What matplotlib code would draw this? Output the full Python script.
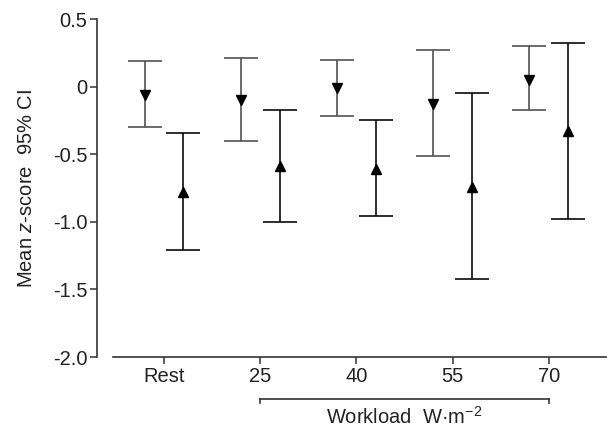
import numpy as np
import matplotlib
matplotlib.use("Agg")
import matplotlib.pyplot as plt
import matplotlib.transforms as mtransforms
from matplotlib.ticker import FuncFormatter

plt.rcParams['font.family'] = ['Liberation Sans Narrow', 'Liberation Sans', 'DejaVu Sans']
plt.rcParams['mathtext.fontset'] = 'custom'
plt.rcParams['mathtext.rm'] = 'Liberation Sans'
plt.rcParams['mathtext.it'] = 'Liberation Sans:italic'

# conditions on the x axis
categories = ['Rest', '25', '40', '55', '70']

# series drawn with downward triangles
down_mean = [-0.06, -0.10, -0.01, -0.13, 0.05]
down_lo = [-0.30, -0.40, -0.215, -0.51, -0.17]
down_hi = [0.19, 0.21, 0.20, 0.27, 0.30]

# series drawn with upward triangles
up_mean = [-0.78, -0.585, -0.61, -0.74, -0.33]
up_lo = [-1.21, -1.00, -0.96, -1.42, -0.98]
up_hi = [-0.34, -0.17, -0.25, -0.05, 0.32]

x = np.arange(len(categories))
off = 0.2
fs = 14.5

fig = plt.figure(figsize=(6.07, 4.32), dpi=100)
ax = fig.add_axes([0.1598, 0.1736, 0.8402, 0.7824])

def err(mean, lo, hi):
    mean = np.array(mean)
    return np.vstack([mean - np.array(lo), np.array(hi) - mean])

ax.errorbar(x - off, down_mean, yerr=err(down_mean, down_lo, down_hi), fmt='v',
            color='#4a4a4a', mfc='black', mec='black', ms=7.5, capsize=12.5,
            elinewidth=1.15, capthick=1.15)
ax.errorbar(x + off, up_mean, yerr=err(up_mean, up_lo, up_hi), fmt='^',
            color='black', mfc='black', mec='black', ms=7.5, capsize=12.5,
            elinewidth=1.15, capthick=1.15)

ax.set_xlim(-0.70, 4.607)
ax.set_ylim(-2.0, 0.5)
ax.set_xticks(x)
ax.set_xticklabels(categories)
ax.set_yticks([0.5, 0, -0.5, -1.0, -1.5, -2.0])
ax.yaxis.set_major_formatter(FuncFormatter(lambda v, p: '0' if abs(v) < 1e-9 else f'{v:.1f}'.replace('\u2212', '-')))

for s in ['top', 'right']:
    ax.spines[s].set_visible(False)
ax.spines['bottom'].set_bounds(-0.537, 4.607)
for s in ['left', 'bottom']:
    ax.spines[s].set_color('#333333')
    ax.spines[s].set_linewidth(1.2)
ax.tick_params(axis='both', labelsize=fs, length=5, width=1.1, color='#333333',
               labelcolor='#222222', pad=2)

ax.set_ylabel('Mean $z$-score  95% CI', fontsize=fs, color='#222222', labelpad=12)

# bracket under the workload conditions
trans = mtransforms.blended_transform_factory(ax.transData, ax.transAxes)
yb = -0.124
ax.plot([x[1], x[-1]], [yb, yb], transform=trans, color='#333333', lw=1.2, clip_on=False)
for xe in (x[1], x[-1]):
    ax.plot([xe, xe], [yb, yb - 0.012], transform=trans, color='#333333', lw=1.2, clip_on=False)
ax.text((x[1] + x[-1]) / 2, yb - 0.02, 'Workload  W\u00b7m$^{-2}$', transform=trans,
        ha='center', va='top', fontsize=fs, color='#222222')

fig.savefig('out.png', dpi=100)
